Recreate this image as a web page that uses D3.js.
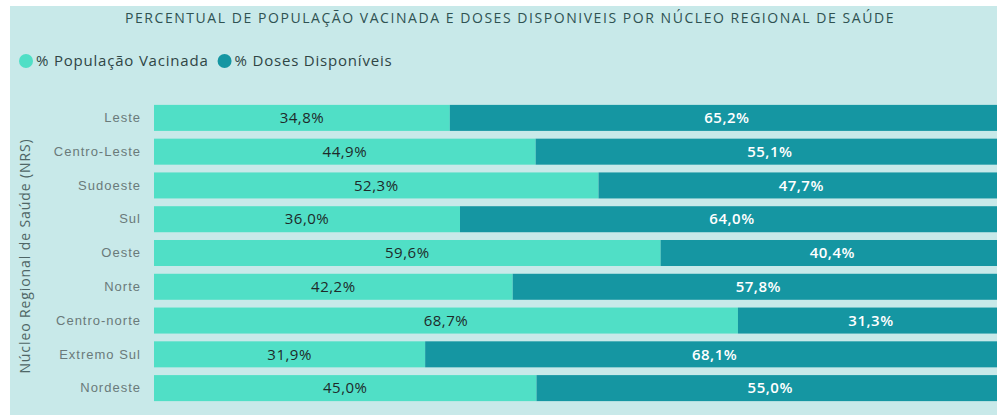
<!DOCTYPE html>
<html>
<head>
<meta charset="utf-8">
<script src="https://cdn.jsdelivr.net/npm/d3@7"></script>
<style>
  body { margin: 0; background: #fff; }
  svg { display: block; font-family: "Open Sans", "Segoe UI", Lato, sans-serif; }
</style>
</head>
<body>
<svg id="chart" width="997" height="415"></svg>
<script>
// chart data
const regions = ['Leste', 'Centro-Leste', 'Sudoeste', 'Sul', 'Oeste', 'Norte', 'Centro-norte', 'Extremo Sul', 'Nordeste']
const vacinada = [34.8, 44.9, 52.3, 36.0, 59.6, 42.2, 68.7, 31.9, 45.0]
const disponiveis = [65.2, 55.1, 47.7, 64.0, 40.4, 57.8, 31.3, 68.1, 55.0]
const seriesNames = ['% População Vacinada', '% Doses Disponíveis']
const seriesColors = ['#50dfc6', '#1596a2']
const title = 'PERCENTUAL DE POPULAÇÃO VACINADA E DOSES DISPONIVEIS POR NÚCLEO REGIONAL DE SAÚDE'
const yTitle = 'Núcleo Regional de Saúde (NRS)'

const ptBR = d3.formatLocale({ decimal: ',', thousands: '.', grouping: [3], currency: ['R$', ''] })
const fmt = v => ptBR.format('.1f')(v) + '%'

const svg = d3.select('#chart')

svg.append('rect')
  .attr('x', 10).attr('y', 6)
  .attr('width', 987).attr('height', 409)
  .attr('fill', '#c8e9e9')

svg.append('text')
  .attr('x', 510).attr('y', 23)
  .attr('text-anchor', 'middle')
  .attr('font-size', 14)
  .attr('letter-spacing', 1.55)
  .attr('fill', '#2f5252')
  .text(title)

// legend
const legend = svg.append('g').attr('transform', 'translate(0,61)')
let lx = 26
seriesNames.forEach((name, i) => {
  legend.append('circle').attr('cx', lx).attr('cy', 0).attr('r', 7).attr('fill', seriesColors[i])
  const t = legend.append('text')
    .attr('x', lx + 10).attr('y', 5)
    .attr('font-size', 15)
    .attr('letter-spacing', 0.8)
    .attr('fill', '#2f4545')
    .text(name)
  lx += 10 + t.node().getComputedTextLength() + 16
})

const yScale = d3.scaleBand()
  .domain(regions)
  .range([101, 405])
  .paddingInner(0.23)
  .paddingOuter(0.115)

const xScale = d3.scaleLinear().domain([0, 100]).range([154, 1004])

// category axis
const yAxis = svg.append('g')
  .attr('transform', 'translate(148,0)')
  .call(d3.axisLeft(yScale).tickSize(0).tickPadding(7))
yAxis.select('.domain').remove()
yAxis.selectAll('text')
  .attr('font-size', 13)
  .attr('letter-spacing', 1)
  .attr('font-family', null)
  .attr('fill', '#6a7a7a')

svg.append('text')
  .attr('transform', `translate(30,${(yScale.range()[0] + yScale.range()[1]) / 2 + 3}) rotate(-90)`)
  .attr('text-anchor', 'middle')
  .attr('font-size', 14)
  .attr('letter-spacing', 0.9)
  .attr('fill', '#4f6666')
  .text(yTitle)

const rows = regions.map((r, i) => ({ region: r, a: vacinada[i], b: disponiveis[i] }))

const row = svg.selectAll('.row')
  .data(rows)
  .enter()
  .append('g')
  .attr('class', 'row')

row.append('rect')
  .attr('x', xScale(0))
  .attr('y', d => yScale(d.region))
  .attr('width', d => xScale(d.a) - xScale(0))
  .attr('height', yScale.bandwidth())
  .attr('fill', seriesColors[0])

row.append('rect')
  .attr('x', d => xScale(d.a))
  .attr('y', d => yScale(d.region))
  .attr('width', d => xScale(d.a + d.b) - xScale(d.a))
  .attr('height', yScale.bandwidth())
  .attr('fill', seriesColors[1])

row.append('text')
  .attr('x', d => (xScale(0) + xScale(d.a)) / 2)
  .attr('y', d => yScale(d.region) + yScale.bandwidth() / 2)
  .attr('dy', '0.35em')
  .attr('text-anchor', 'middle')
  .attr('font-size', 15)
  .attr('letter-spacing', 0.5)
  .attr('fill', '#1e2a2a')
  .text(d => fmt(d.a))

row.append('text')
  .attr('x', d => (xScale(d.a) + xScale(d.a + d.b)) / 2)
  .attr('y', d => yScale(d.region) + yScale.bandwidth() / 2)
  .attr('dy', '0.35em')
  .attr('text-anchor', 'middle')
  .attr('font-size', 15)
  .attr('letter-spacing', 0.5)
  .attr('font-weight', 600)
  .attr('fill', '#ffffff')
  .text(d => fmt(d.b))
</script>
</body>
</html>
